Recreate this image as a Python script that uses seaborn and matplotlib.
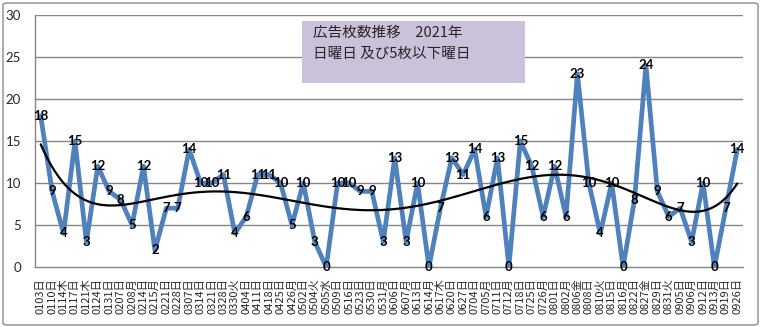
import numpy as np
import pandas as pd
import matplotlib
matplotlib.use("Agg")
import matplotlib.pyplot as plt
from matplotlib.patches import FancyBboxPatch, Rectangle
import seaborn as sns

# Posting dates (MMDD + weekday) and number of flyers on each date
dates = [
    "0103日", "0110日", "0114木", "0117日", "0121木", "0124日", "0131日", "0207日",
    "0208月", "0214日", "0215月", "0221日", "0228日", "0307日", "0314日", "0321日",
    "0328日", "0330火", "0404日", "0411日", "0418日", "0425日", "0426月", "0502日",
    "0504火", "0505水", "0509日", "0516日", "0523日", "0530日", "0531月", "0606日",
    "0607月", "0613日", "0614月", "0617木", "0620日", "0627日", "0704日", "0705月",
    "0711日", "0712月", "0718日", "0725日", "0726月", "0801日", "0802月", "0806金",
    "0808日", "0810火", "0815日", "0816月", "0822日", "0827金", "0829日", "0831火",
    "0905日", "0906月", "0912日", "0913月", "0919日", "0926日",
]
counts = [
    18, 9, 4, 15, 3, 12, 9, 8, 5, 12, 2, 7, 7, 14, 10, 10,
    11, 4, 6, 11, 11, 10, 5, 10, 3, 0, 10, 10, 9, 9, 3, 13,
    3, 10, 0, 7, 13, 11, 14, 6, 13, 0, 15, 12, 6, 12, 6, 23,
    10, 4, 10, 0, 8, 24, 9, 6, 7, 3, 10, 0, 7, 14,
]
yticks = [0, 5, 10, 15, 20, 25, 30]
title_lines = ["広告枚数推移　2021年", "日曜日 及び5枚以下曜日"]

sns.set_style("white")
plt.rcParams["font.family"] = ["Noto Sans CJK JP", "DejaVu Sans"]

df = pd.DataFrame({"pos": np.arange(len(dates)), "date": dates, "count": counts})

fig = plt.figure(figsize=(7.61, 3.27), dpi=100)
ax = fig.add_axes([35 / 761, 1 - 267 / 327, (743 - 35) / 761, (267 - 15) / 327])

grid_col = "#868686"
for v in yticks[1:]:
    ax.axhline(v, color=grid_col, lw=1.0, zorder=0)

sns.lineplot(data=df, x="pos", y="count", ax=ax, color="#4F81BD", lw=3.4,
             sort=False, zorder=2)

# 6th-order polynomial trend over the series (x = 1..n)
xs = np.arange(1, len(counts) + 1)
coef = np.polyfit(xs, counts, 6)
xd = np.linspace(1, len(counts), 400)
trend = pd.DataFrame({"pos": xd - 1, "trend": np.polyval(coef, xd)})
sns.lineplot(data=trend, x="pos", y="trend", ax=ax, color="black", lw=1.6,
             sort=False, zorder=3)

for p, c in zip(df["pos"], df["count"]):
    ax.text(p, c, str(c), ha="center", va="center", fontsize=9.5,
            fontweight="bold", family=["Lato", "DejaVu Sans"], color="black",
            zorder=4)

ax.set_xlim(-0.5, len(dates) - 0.5)
ax.set_ylim(0, 30)
ax.set_yticks(yticks)
ax.set_yticklabels([str(v) for v in yticks], fontsize=9.5,
                   family=["Lato", "DejaVu Sans"])
ax.set_xticks(df["pos"])
ax.set_xticklabels(dates, rotation=90, fontsize=8)
ax.set_xticks(np.arange(-0.5, len(dates), 1), minor=True)
ax.tick_params(axis="x", which="major", length=0, pad=8)
ax.tick_params(axis="x", which="minor", length=4, color=grid_col, width=1,
               direction="out")
ax.tick_params(axis="y", length=4, color=grid_col, width=1, direction="out",
               pad=6)
ax.set_xlabel("")
ax.set_ylabel("")
for s in ["top", "right"]:
    ax.spines[s].set_visible(False)
for s in ["left", "bottom"]:
    ax.spines[s].set_color(grid_col)
    ax.spines[s].set_linewidth(1.0)

# Title box
fig.patches.append(Rectangle((302 / 761, 1 - 83 / 327), 223 / 761, 62 / 327,
                             transform=fig.transFigure, facecolor="#CCC1DA",
                             edgecolor="none", zorder=5))
fig.text(313 / 761, 1 - 33 / 327, title_lines[0], fontsize=10.5, va="center",
         ha="left", zorder=6)
fig.text(313 / 761, 1 - 54 / 327, title_lines[1], fontsize=10.5, va="center",
         ha="left", zorder=6)

# Chart frame
fig.patches.append(FancyBboxPatch((3 / 761, 2 / 327), 755 / 761, 322 / 327,
                                  boxstyle="round,pad=0,rounding_size=0.006",
                                  transform=fig.transFigure, facecolor="none",
                                  edgecolor="#8C8C8C", lw=1.0, zorder=1))

fig.savefig("out.png", dpi=100)
